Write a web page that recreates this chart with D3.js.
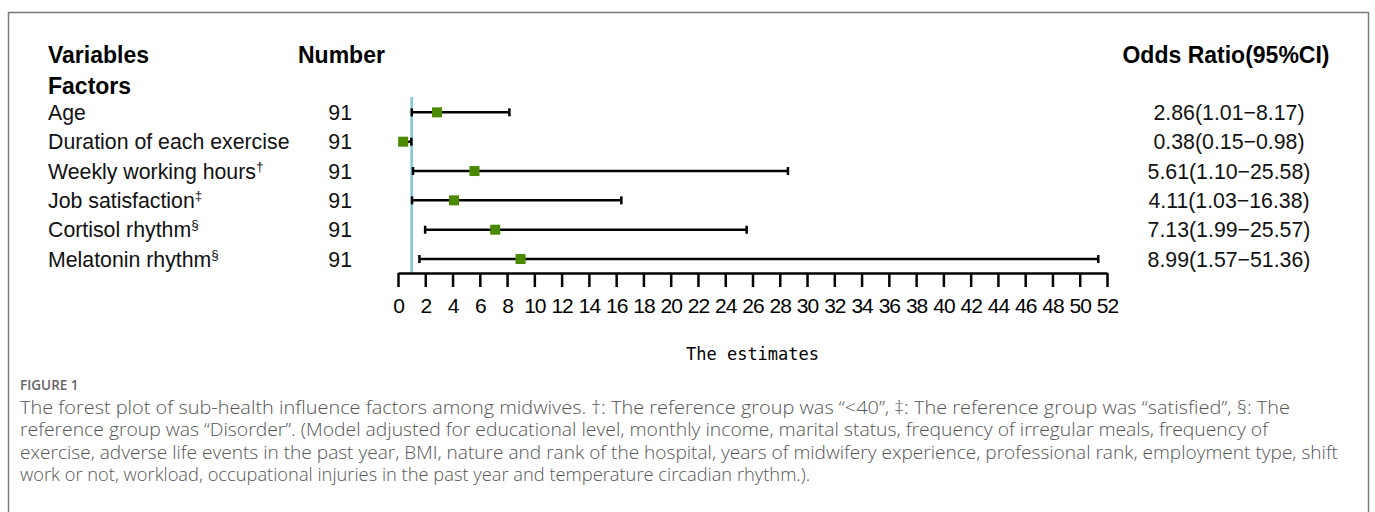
<!DOCTYPE html>
<html><head><meta charset="utf-8">
<script src="https://cdn.jsdelivr.net/npm/d3@7"></script>
<style>html,body{margin:0;padding:0;background:#fff;}svg{display:block;}</style>
</head><body>
<svg id="c" width="1375" height="512"></svg>
<script>
const factors = ["Age","Duration of each exercise","Weekly working hours","Job satisfaction","Cortisol rhythm","Melatonin rhythm"];
const marks = ["","","†","‡","§","§"];
const numbers = [91,91,91,91,91,91];
const estimates = [2.86,0.38,5.61,4.11,7.13,8.99];
const lowers = [1.01,0.15,1.10,1.03,1.99,1.57];
const uppers = [8.17,0.98,28.6,16.38,25.57,51.36];
const orLabels = ["2.86(1.01−8.17)","0.38(0.15−0.98)","5.61(1.10−25.58)","4.11(1.03−16.38)","7.13(1.99−25.57)","8.99(1.57−51.36)"];
const tickValues = d3.range(0,53,2);
const refValue = 1;
const captionTitle = "FIGURE 1";
const captionLines = [
 "The forest plot of sub-health influence factors among midwives. †: The reference group was “<40”, ‡: The reference group was “satisfied”, §: The",
 "reference group was “Disorder”. (Model adjusted for educational level, monthly income, marital status, frequency of irregular meals, frequency of",
 "exercise, adverse life events in the past year, BMI, nature and rank of the hospital, years of midwifery experience, professional rank, employment type, shift",
 "work or not, workload, occupational injuries in the past year and temperature circadian rhythm.)."
];
const captionWidths = [1270, 1248, 1318, 790];

const svg = d3.select("#c");
svg.append("rect").attr("x",8.5).attr("y",12.5).attr("width",1360).attr("height",560)
  .attr("fill","none").attr("stroke","#7a7a7a").attr("stroke-width",1.5);

const x = d3.scaleLinear().domain([0,52]).range([398,1107]);
const y = d3.scaleBand().domain(d3.range(factors.length)).range([98,274]).padding(0);
const yc = i => y(i) + y.bandwidth()/2 - 0.3;

const sans = "'Liberation Sans', Arial, sans-serif";
const g = svg.append("g").style("font-family", sans);

// headers
const hs = 23;
g.append("text").attr("x",48).attr("y",63).attr("font-size",hs).attr("font-weight","bold").text("Variables");
g.append("text").attr("x",48).attr("y",94).attr("font-size",hs).attr("font-weight","bold").text("Factors");
g.append("text").attr("x",298).attr("y",63).attr("font-size",hs).attr("font-weight","bold").text("Number");
g.append("text").attr("x",1226).attr("y",63).attr("font-size",hs).attr("font-weight","bold").attr("text-anchor","middle").text("Odds Ratio(95%CI)");

// row labels
factors.forEach((f,i)=>{
  const t = g.append("text").attr("x",48).attr("y",yc(i)+7.5).attr("font-size",21.3).attr("fill","#111");
  t.append("tspan").text(f);
  if(marks[i]) t.append("tspan").attr("font-size",13.5).attr("dy",-8).text(marks[i]);
  g.append("text").attr("x",352).attr("y",yc(i)+7.5).attr("font-size",21.3).attr("text-anchor","end").attr("fill","#111").text(numbers[i]);
  g.append("text").attr("x",1229).attr("y",yc(i)+7.5).attr("font-size",21.3).attr("text-anchor","middle").attr("fill","#111").text(orLabels[i]);
});

// reference line
g.append("line").attr("x1",x(refValue)).attr("x2",x(refValue)).attr("y1",97).attr("y2",273)
  .attr("stroke","#7ec6d2").attr("stroke-width",2.5);

// CI lines
factors.forEach((f,i)=>{
  const cy = yc(i);
  g.append("line").attr("x1",x(lowers[i])).attr("x2",x(uppers[i])).attr("y1",cy).attr("y2",cy).attr("stroke","#000").attr("stroke-width",2.5);
  [lowers[i],uppers[i]].forEach(v=>{
    g.append("line").attr("x1",x(v)).attr("x2",x(v)).attr("y1",cy-4).attr("y2",cy+4).attr("stroke","#000").attr("stroke-width",2.5);
  });
  g.append("rect").attr("x",x(estimates[i])-5).attr("y",cy-5).attr("width",10).attr("height",10).attr("fill","#4a8a00");
});

// axis
const axis = d3.axisBottom(x).tickValues(tickValues).tickSize(14).tickPadding(11).tickSizeOuter(0);
const ag = g.append("g").attr("transform","translate(0,273)").call(axis);
ag.select(".domain").attr("stroke","#000").attr("stroke-width",2.5);
ag.selectAll(".tick line").attr("stroke","#000").attr("stroke-width",2.5);
ag.selectAll(".tick text").attr("font-size",21).attr("font-family",sans).attr("fill","#000")
  .attr("letter-spacing","-1px");

g.append("text").attr("x",x(26)).attr("y",360).attr("text-anchor","middle")
  .attr("font-family","'DejaVu Sans Mono', monospace").attr("font-size",17).attr("fill","#000").text("The estimates");

// caption
const cap = svg.append("g").style("font-family","'Open Sans', sans-serif").attr("fill","#555");
cap.append("text").attr("x",20).attr("y",390).attr("font-size",13.5).attr("font-weight",600).attr("fill","#666").text(captionTitle);
captionLines.forEach((l,i)=>{
  cap.append("text").attr("x",20).attr("y",413.5+i*22.5).attr("font-size",18).attr("font-weight",300)
    .attr("textLength",captionWidths[i]).attr("lengthAdjust","spacingAndGlyphs").text(l);
});
</script>
</body></html>
